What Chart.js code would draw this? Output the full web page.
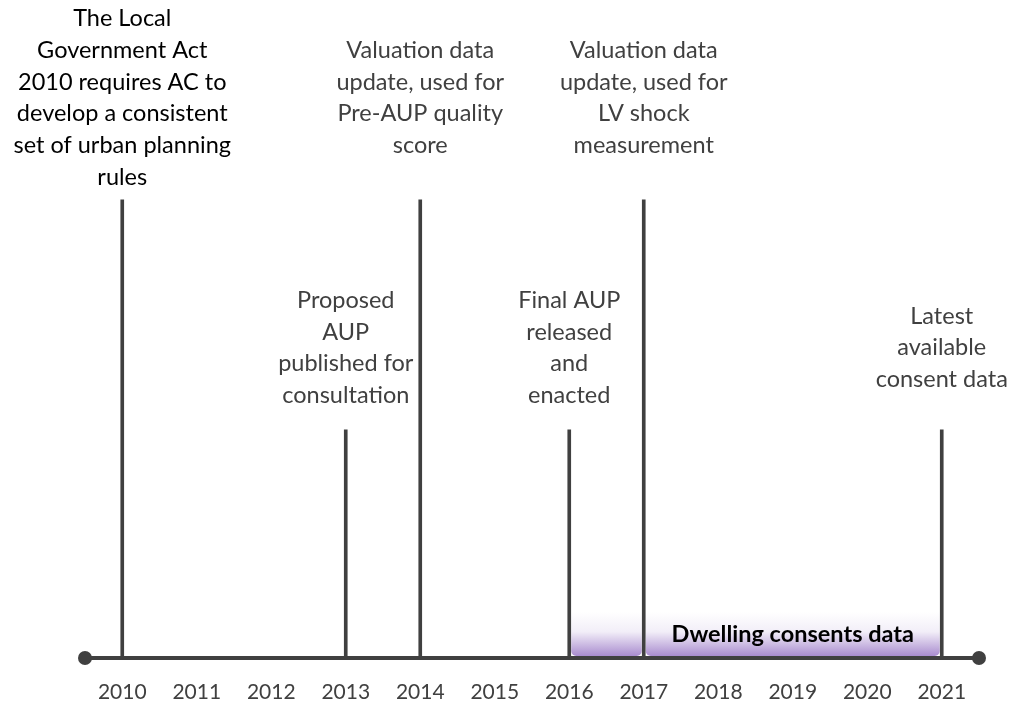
<!DOCTYPE html>
<html>
<head>
<meta charset="utf-8">
<script src="https://cdn.jsdelivr.net/npm/chart.js@4"></script>
<style>
  body { margin: 0; background: #fff; }
  #wrap { width: 1013px; height: 702px; }
</style>
</head>
<body>
<div id="wrap"><canvas id="timeline" width="1013" height="702"></canvas></div>
<script>
// timeline data
const years = [2010, 2011, 2012, 2013, 2014, 2015, 2016, 2017, 2018, 2019, 2020, 2021];
const eventYears = [2010, 2013, 2014, 2016, 2017, 2021];
const eventHeights = [70.7, 35.2, 70.7, 35.2, 70.7, 35.2];
const eventLabels = [
  ['The Local', 'Government Act', '2010 requires AC to', 'develop a consistent', 'set of urban planning', 'rules'],
  ['Proposed', 'AUP', 'published for', 'consultation'],
  ['Valuation data', 'update, used for', 'Pre-AUP quality', 'score'],
  ['Final AUP', 'released', 'and', 'enacted'],
  ['Valuation data', 'update, used for', 'LV shock', 'measurement'],
  ['Latest', 'available', 'consent data']
];
const bandStarts = [2016, 2017];
const bandEnds = [2017, 2021];
const bandHeight = 7.1;
const bandLabel = 'Dwelling consents data';
const axisRange = [2009.5, 2021.5];

const FONT = 'Lato, "Open Sans", sans-serif';
const DARK = '#404040';

// purple "consents" band behind the stems
const bandPlugin = {
  id: 'band',
  beforeDatasetsDraw(chart) {
    const { ctx, scales: { x, y } } = chart;
    const top = y.getPixelForValue(bandHeight);
    const bottom = y.getPixelForValue(0) - 2;
    ctx.save();
    bandStarts.forEach((s, i) => {
      const x0 = x.getPixelForValue(s) + 2;
      const x1 = x.getPixelForValue(bandEnds[i]) - 2;
      const g = ctx.createLinearGradient(0, top, 0, bottom);
      g.addColorStop(0, '#ffffff');
      g.addColorStop(0.45, '#f2eef8');
      g.addColorStop(1, '#a98ccf');
      ctx.fillStyle = g;
      ctx.beginPath();
      ctx.roundRect(x0, top, x1 - x0, bottom - top, [0, 0, 5, 5]);
      ctx.fill();
    });
    ctx.fillStyle = '#000';
    ctx.font = 'bold 23.5px ' + FONT;
    ctx.textAlign = 'center';
    ctx.textBaseline = 'middle';
    const mid = (x.getPixelForValue(bandStarts[1]) + x.getPixelForValue(bandEnds[1])) / 2;
    ctx.fillText(bandLabel, mid, (top + bottom) / 2);
    ctx.restore();
  }
};

// event captions above each stem
const captionPlugin = {
  id: 'captions',
  afterDatasetsDraw(chart) {
    const { ctx, scales: { x, y } } = chart;
    const lh = 31.7;
    ctx.save();
    ctx.font = '23.5px ' + FONT;
    ctx.textAlign = 'center';
    ctx.textBaseline = 'middle';
    eventYears.forEach((yr, i) => {
      const lines = eventLabels[i];
      const top = y.getPixelForValue(eventHeights[i]);
      const centre = top - (eventHeights[i] > 50 ? 102 : 82);
      const start = centre - (lines.length - 1) * lh / 2;
      ctx.fillStyle = i === 0 ? '#000' : DARK;
      lines.forEach((t, j) => ctx.fillText(t, x.getPixelForValue(yr), start + j * lh));
    });
    ctx.restore();
  }
};

new Chart(document.getElementById('timeline'), {
  type: 'bar',
  data: {
    datasets: [{
      type: 'line',
      data: axisRange.map(v => ({ x: v, y: 0 })),
      borderColor: DARK,
      borderWidth: 4,
      pointRadius: 7,
      pointBackgroundColor: DARK,
      pointBorderWidth: 0,
      clip: false,
      order: 0
    }, {
      data: eventYears.map((v, i) => ({ x: v, y: eventHeights[i] })),
      backgroundColor: DARK,
      barThickness: 3,
      order: 1
    }]
  },
  plugins: [bandPlugin, captionPlugin],
  options: {
    responsive: false,
    animation: false,
    layout: { padding: { left: 85, right: 34, top: 10, bottom: 0 } },
    plugins: { legend: { display: false }, tooltip: { enabled: false } },
    scales: {
      x: {
        type: 'linear',
        min: axisRange[0],
        max: axisRange[1],
        offset: false,
        afterBuildTicks: s => { s.ticks = years.map(v => ({ value: v })); },
        afterFit: s => { s.height = 44; },
        grid: { display: false, drawTicks: false },
        border: { display: false },
        ticks: {
          padding: 22,
          color: DARK,
          font: { family: FONT, size: 21 },
          callback: v => String(v),
          maxRotation: 0,
          autoSkip: false
        }
      },
      y: {
        display: false,
        min: 0,
        max: 100
      }
    }
  }
});
</script>
</body>
</html>
